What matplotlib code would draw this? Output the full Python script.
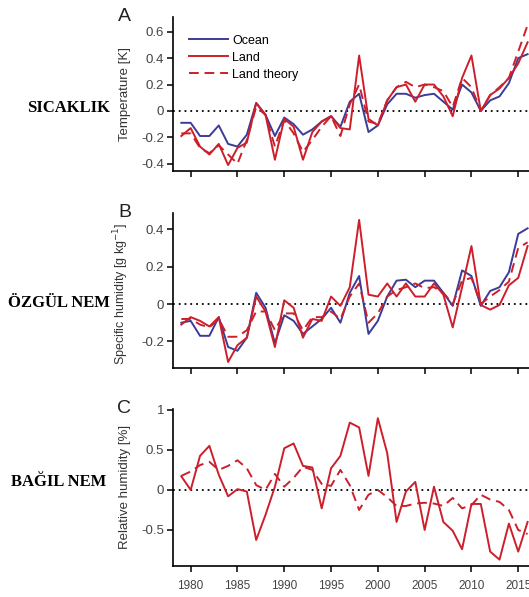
import numpy as np
import matplotlib
matplotlib.use("Agg")
import matplotlib.pyplot as plt

years = np.arange(1979, 2017)

# Panel A - temperature anomaly [K]
temp_ocean = [-0.09, -0.09, -0.19, -0.19, -0.11, -0.25, -0.27, -0.18, 0.06, -0.03,
              -0.19, -0.05, -0.10, -0.18, -0.14, -0.08, -0.04, -0.12, 0.07, 0.13,
              -0.16, -0.11, 0.05, 0.13, 0.13, 0.10, 0.12, 0.13, 0.07, 0.01,
              0.20, 0.14, 0.00, 0.08, 0.11, 0.21, 0.40, 0.43]
temp_land = [-0.19, -0.13, -0.27, -0.33, -0.25, -0.41, -0.28, -0.24, 0.06, -0.03,
             -0.37, -0.06, -0.12, -0.37, -0.16, -0.08, -0.04, -0.13, -0.14, 0.42,
             -0.06, -0.11, 0.08, 0.18, 0.20, 0.07, 0.20, 0.20, 0.11, -0.04,
             0.25, 0.42, 0.00, 0.12, 0.17, 0.25, 0.36, 0.52]
temp_theory = [-0.17, -0.17, -0.28, -0.32, -0.26, -0.33, -0.40, -0.22, 0.03, -0.03,
               -0.27, -0.07, -0.17, -0.31, -0.22, -0.12, -0.04, -0.19, 0.05, 0.20,
               -0.08, -0.10, 0.08, 0.18, 0.22, 0.18, 0.20, 0.18, 0.15, 0.03,
               0.25, 0.18, 0.00, 0.12, 0.18, 0.25, 0.45, 0.65]

# Panel B - specific humidity anomaly [g/kg]
q_ocean = [-0.10, -0.09, -0.17, -0.17, -0.07, -0.23, -0.25, -0.18, 0.06, -0.02,
           -0.21, -0.06, -0.09, -0.16, -0.12, -0.08, -0.02, -0.10, 0.06, 0.15,
           -0.16, -0.09, 0.04, 0.125, 0.13, 0.09, 0.125, 0.125, 0.06, -0.01,
           0.18, 0.15, -0.01, 0.07, 0.09, 0.17, 0.375, 0.405]
q_land = [-0.11, -0.07, -0.09, -0.12, -0.07, -0.31, -0.22, -0.18, 0.04, -0.04,
          -0.23, 0.02, -0.02, -0.18, -0.08, -0.09, 0.04, -0.01, 0.09, 0.45,
          0.05, 0.04, 0.11, 0.04, 0.11, 0.04, 0.04, 0.11, 0.05, -0.125,
          0.09, 0.31, -0.005, -0.03, -0.005, 0.10, 0.14, 0.31]
q_theory = [-0.08, -0.08, -0.11, -0.125, -0.08, -0.175, -0.175, -0.14, -0.04, -0.04,
            -0.14, -0.05, -0.05, -0.14, -0.07, -0.07, -0.04, -0.08, 0.04, 0.11,
            -0.10, -0.05, 0.04, 0.075, 0.09, 0.11, 0.085, 0.09, 0.06, 0.00,
            0.125, 0.14, 0.00, 0.04, 0.075, 0.12, 0.30, 0.33]

# Panel C - relative humidity anomaly [%]
rh_land = [0.17, 0.00, 0.425, 0.55, 0.19, -0.08, 0.01, -0.02, -0.625, -0.31,
           0.04, 0.52, 0.58, 0.30, 0.28, -0.23, 0.27, 0.425, 0.84, 0.78,
           0.175, 0.895, 0.46, -0.40, -0.02, 0.10, -0.50, 0.04, -0.40, -0.51,
           -0.74, -0.175, -0.175, -0.77, -0.87, -0.42, -0.77, -0.40]
rh_theory = [0.175, 0.23, 0.31, 0.35, 0.25, 0.30, 0.37, 0.27, 0.06, 0.00,
             0.20, 0.04, 0.15, 0.29, 0.25, 0.075, 0.05, 0.25, 0.06, -0.25,
             -0.06, 0.00, -0.09, -0.20, -0.20, -0.17, -0.16, -0.17, -0.20, -0.10,
             -0.23, -0.19, -0.06, -0.12, -0.15, -0.25, -0.50, -0.55]

xticks = [1980, 1985, 1990, 1995, 2000, 2005, 2010, 2015]

blue = "#3a3c98"
red = "#cc1f2b"
tick_col = "#444444"

fig = plt.figure(figsize=(5.29, 5.97), dpi=100)
plt.rcParams["font.family"] = ["Liberation Sans", "DejaVu Sans"]

left, width = 0.327, 0.673
axA = fig.add_axes([left, 0.7136, width, 0.258])
axB = fig.add_axes([left, 0.383, width, 0.2606])
axC = fig.add_axes([left, 0.0524, width, 0.2625])


def style(ax, ylim, yticks, ylabels, ylabel, show_x, label_size=9.5):
    ax.set_xlim(1978.11, 2016.15)
    ax.set_ylim(*ylim)
    ax.axhline(0, color="black", ls=(0, (1, 2.2)), lw=1.3, zorder=1)
    for s in ["top", "right"]:
        ax.spines[s].set_visible(False)
    for s in ["left", "bottom"]:
        ax.spines[s].set_linewidth(1.2)
    ax.set_xticks(xticks)
    ax.set_yticks(yticks)
    ax.set_yticklabels(ylabels)
    ax.tick_params(direction="out", length=4.5, width=1.1, labelcolor=tick_col)
    ax.tick_params(axis="y", labelsize=9.5, pad=2)
    ax.tick_params(axis="x", labelsize=8.5, pad=5.5)
    if not show_x:
        ax.set_xticklabels([])
    ax.set_ylabel(ylabel, fontsize=label_size, color="#333333")
    ax.yaxis.set_label_coords(-0.119, 0.5)


# A
axA.plot(years, temp_ocean, color=blue, lw=1.4, label="Ocean", zorder=3)
axA.plot(years, temp_land, color=red, lw=1.4, label="Land", zorder=3)
axA.plot(years, temp_theory, color=red, lw=1.4, ls=(0, (5, 3)), label="Land theory", zorder=3)
style(axA, (-0.455, 0.712), [-0.4, -0.2, 0, 0.2, 0.4, 0.6],
      ["-0.4", "-0.2", "0", "0.2", "0.4", "0.6"], "Temperature [K]", False)
axA.legend(loc="upper left", bbox_to_anchor=(0.045, 0.885), frameon=False, fontsize=9,
           handlelength=3.1, handletextpad=0.35, labelspacing=0.4,
           borderaxespad=0, borderpad=0)

# B
axB.plot(years, q_ocean, color=blue, lw=1.4, zorder=3)
axB.plot(years, q_land, color=red, lw=1.4, zorder=3)
axB.plot(years, q_theory, color=red, lw=1.4, ls=(0, (5, 3)), zorder=3)
style(axB, (-0.344, 0.488), [-0.2, 0, 0.2, 0.4], ["-0.2", "0", "0.2", "0.4"],
      "Specific humidity [g kg$^{-1}$]", False, label_size=9)
axB.yaxis.set_label_coords(-0.119, 0.48)

# C
axC.plot(years, rh_land, color=red, lw=1.4, zorder=3)
axC.plot(years, rh_theory, color=red, lw=1.4, ls=(0, (5, 3)), zorder=3)
style(axC, (-0.946, 1.01), [-0.5, 0, 0.5, 1], ["-0.5", "0", "0.5", "1"],
      "Relative humidity [%]", True)

# panel letters
for ax, letter in [(axA, "A"), (axB, "B"), (axC, "C")]:
    ax.text(-0.118, 0.974, letter, transform=ax.transAxes, fontsize=14,
            ha="right", va="baseline", color="#222222")

# Turkish side labels (right-aligned next to the y labels)
side_labels = ["SICAKLIK", "ÖZGÜL NEM", "BAĞIL NEM"]
side_y = [108, 303, 482]
side_right = [110, 110, 106]
for txt, yp, xr in zip(side_labels, side_y, side_right):
    fig.text(xr / 529, 1 - yp / 597, txt, fontsize=12, fontweight="bold",
             family=["Liberation Serif", "DejaVu Serif"], ha="right", va="center")

fig.savefig("out.png", dpi=100)
